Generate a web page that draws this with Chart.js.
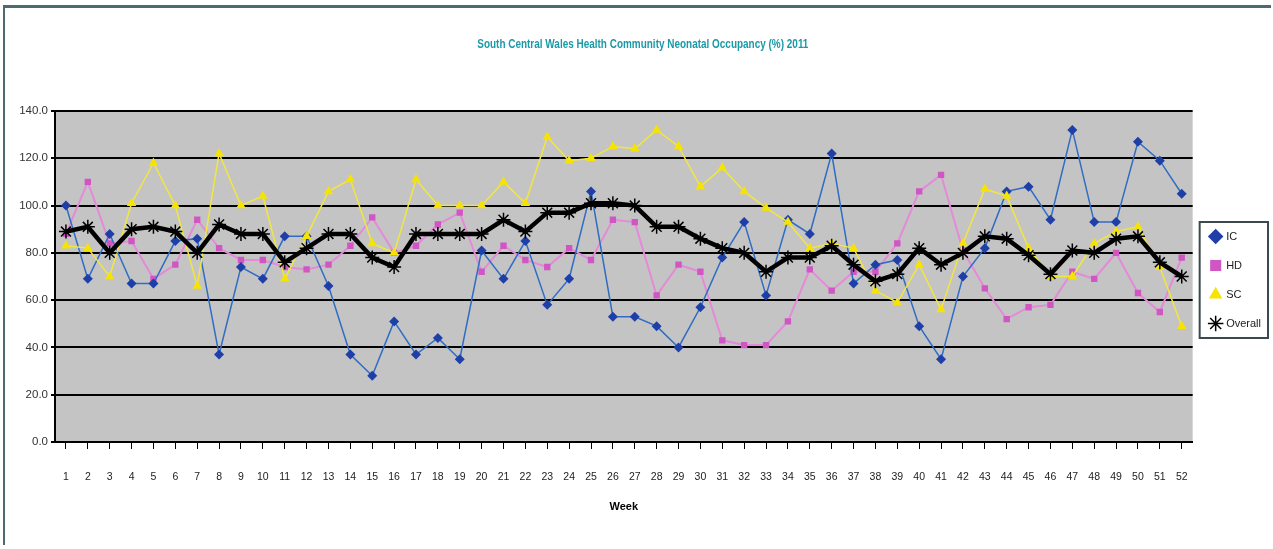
<!DOCTYPE html>
<html>
<head>
<meta charset="utf-8">
<script src="https://cdn.jsdelivr.net/npm/chart.js@4/dist/chart.umd.min.js"></script>
<style>
  html, body { margin: 0; padding: 0; background: #fff; }
  #wrap { position: relative; width: 1273px; height: 549px; }
  #frame { position: absolute; left: 3px; top: 5px; width: 1268px; height: 540px; border-left: 2px solid #4d6a70; border-top: 3px solid #4d6a70; box-sizing: border-box; pointer-events: none; }
  canvas { position: absolute; left: 0; top: 0; }
</style>
</head>
<body>
<div id="wrap">
  <canvas id="chart" width="1273" height="549"></canvas>
  <div id="frame"></div>
</div>
<script>
const chartTitle = 'South Central Wales Health Community Neonatal Occupancy (%) 2011';

const weeks = Array.from({ length: 52 }, (_, i) => String(i + 1));

const icValues = [100, 69, 88, 67, 67, 85, 86, 37, 74, 69, 87, 87, 66, 37, 28, 51, 37, 44, 35, 81,
  69, 85, 58, 69, 106, 53, 53, 49, 40, 57, 78, 93, 62, 94, 88, 122, 67, 75, 77, 49,
  35, 70, 82, 106, 108, 94, 132, 93, 93, 127, 119, 105];

const hdValues = [88, 110, 84, 85, 69, 75, 94, 82, 77, 77, 74, 73, 75, 83, 95, 80, 83, 92, 97, 72,
  83, 77, 74, 82, 77, 94, 93, 62, 75, 72, 43, 41, 41, 51, 73, 64, 72, 72, 84, 106,
  113, 81, 65, 52, 57, 58, 72, 69, 80, 63, 55, 78];

const scValues = [83, 82, 70, 101, 118, 100, 66, 122, 100, 104, 69, 87, 106, 111, 84, 80, 111, 100, 100, 100,
  110, 101, 129, 119, 120, 125, 124, 132, 125, 108, 116, 106, 99, 93, 82, 84, 82, 64, 59, 75,
  56, 84, 107, 104, 82, 70, 70, 84, 89, 91, 74, 49];

const overallValues = [89, 91, 80, 90, 91, 89, 80, 92, 88, 88, 76, 82, 88, 88, 78, 74, 88, 88, 88, 88,
  94, 89, 97, 97, 101, 101, 100, 91, 91, 86, 82, 80, 72, 78, 78, 83, 75, 68, 71, 82,
  75, 80, 87, 86, 79, 71, 81, 80, 86, 87, 76, 70];

const yTicks = [0, 20, 40, 60, 80, 100, 120, 140];

const font = "'Liberation Sans', Arial, sans-serif";

// grey plot area, a condensed title and a framed legend (Excel look)
const excelLook = {
  id: 'excelLook',
  beforeDraw(chart) {
    const { ctx, chartArea: a } = chart;
    ctx.save();
    ctx.fillStyle = '#c4c4c4';
    ctx.fillRect(a.left, a.top, a.right - a.left, a.bottom - a.top);
    ctx.restore();
  },
  afterDraw(chart) {
    const ctx = chart.ctx;
    const a = chart.chartArea;
    ctx.save();
    ctx.font = 'bold 12px ' + font;
    ctx.fillStyle = '#1a9aa8';
    ctx.textAlign = 'center';
    ctx.textBaseline = 'middle';
    ctx.translate((a.left + a.right) / 2 + 19, 45);
    ctx.scale(0.83, 1);
    ctx.fillText(chartTitle, 0, 0);
    ctx.restore();

    const lg = chart.legend;
    if (!lg || !lg.legendHitBoxes.length) return;
    const boxes = lg.legendHitBoxes;
    const top = Math.min(...boxes.map(b => b.top)) - 9;
    const bottom = Math.max(...boxes.map(b => b.top + b.height)) + 9;
    ctx.save();
    ctx.strokeStyle = '#3a4a50';
    ctx.lineWidth = 2;
    ctx.strokeRect(lg.left + 7, top, lg.width - 10, bottom - top);
    ctx.restore();
  }
};

new Chart(document.getElementById('chart'), {
  type: 'line',
  data: {
    labels: weeks,
    datasets: [{
      label: 'IC',
      data: icValues,
      borderColor: '#2f6cc4',
      backgroundColor: '#1f3fa8',
      borderWidth: 1.5,
      pointStyle: 'rectRot',
      pointRadius: 5,
      pointBorderWidth: 0,
      order: 3
    }, {
      label: 'HD',
      data: hdValues,
      borderColor: '#e48ad8',
      backgroundColor: '#d056c4',
      borderWidth: 2,
      pointStyle: 'rect',
      pointRadius: 4.5,
      pointBorderWidth: 0,
      order: 4
    }, {
      label: 'SC',
      data: scValues,
      borderColor: '#f2e640',
      backgroundColor: '#f6e400',
      borderWidth: 1.5,
      pointStyle: 'triangle',
      pointRadius: 5.5,
      pointBorderWidth: 0,
      order: 2
    }, {
      label: 'Overall',
      data: overallValues,
      borderColor: '#000',
      backgroundColor: '#000',
      borderWidth: 4.5,
      pointStyle: 'star',
      pointRadius: 7,
      pointBorderWidth: 1.5,
      pointBorderColor: '#000',
      order: 0
    }]
  },
  options: {
    responsive: false,
    animation: false,
    layout: { padding: { top: 111, left: 8, right: 2, bottom: 35 } },
    plugins: {
      title: { display: false },
      legend: {
        position: 'right',
        align: 'start',
        title: {
          display: true,
          text: ' ',
          font: { size: 10 },
          padding: { top: 90, bottom: 0 }
        },
        labels: {
          usePointStyle: true,
          color: '#222',
          font: { family: font, size: 11 },
          padding: 18,
          boxWidth: 10,
          sort: (a, b) => a.datasetIndex - b.datasetIndex
        }
      },
      tooltip: { enabled: false }
    },
    scales: {
      x: {
        offset: true,
        afterFit: axis => { axis.height = 72; },
        grid: {
          display: true,
          drawOnChartArea: false,
          drawTicks: true,
          tickLength: 7,
          color: '#000'
        },
        border: { color: '#000', width: 2 },
        ticks: {
          autoSkip: false,
          maxRotation: 0,
          color: '#222',
          padding: 22,
          font: { family: font, size: 10.5 }
        },
        title: {
          display: true,
          text: 'Week',
          color: '#000',
          font: { family: font, size: 11, weight: 'bold' },
          padding: { top: 0, bottom: 0 }
        }
      },
      y: {
        min: 0,
        max: 140,
        afterBuildTicks: axis => { axis.ticks = yTicks.map(v => ({ value: v })); },
        afterFit: axis => { axis.width = 47; },
        grid: {
          color: '#000',
          lineWidth: 2,
          tickLength: 4
        },
        border: { color: '#000', width: 2 },
        ticks: {
          color: '#333',
          padding: 3,
          font: { family: font, size: 11.5 },
          callback: v => Number(v).toFixed(1)
        }
      }
    }
  },
  plugins: [excelLook]
});
</script>
</body>
</html>
